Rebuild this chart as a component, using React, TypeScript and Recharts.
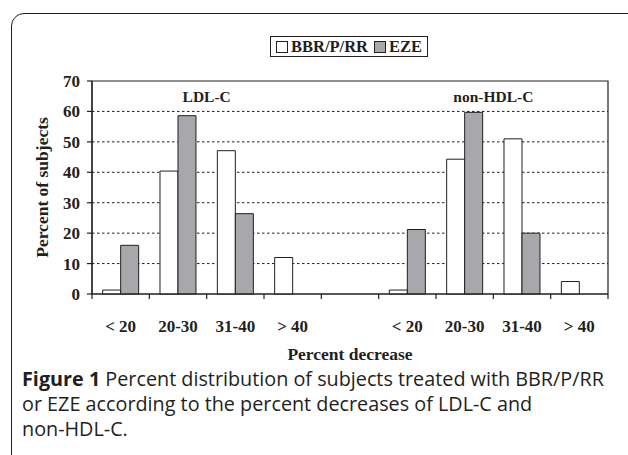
import React from "react";
import {
  BarChart,
  Bar,
  XAxis,
  YAxis,
  CartesianGrid,
  ReferenceArea,
  Legend,
} from "recharts";

// ---- data ----
const categoryIds = [
  "ldl-lt20",
  "ldl-2030",
  "ldl-3140",
  "ldl-gt40",
  "gap",
  "nonhdl-lt20",
  "nonhdl-2030",
  "nonhdl-3140",
  "nonhdl-gt40",
];
const tickLabels = ["< 20", "20-30", "31-40", "> 40", "", "< 20", "20-30", "31-40", "> 40"];
const bbrValues: (number | null)[] = [1.3, 40.4, 47.1, 12.0, null, 1.3, 44.3, 51.0, 4.1];
const ezeValues: (number | null)[] = [16.0, 58.6, 26.4, null, null, 21.2, 59.7, 20.0, null];
const yTicks = [0, 10, 20, 30, 40, 50, 60, 70];
const gridValues = [10, 20, 30, 40, 50, 60];
const seriesNames = ["BBR/P/RR", "EZE"];
const groupLabels = ["LDL-C", "non-HDL-C"];

const data = categoryIds.map((id, i) => ({
  id,
  label: tickLabels[i],
  bbr: bbrValues[i],
  eze: ezeValues[i],
}));

// ---- layout/style ----
const W = 628;
const H = 455;
const MARGIN = { top: 81, right: 20, left: 0, bottom: 95 };
const Y_AXIS_W = 92;
const X_AXIS_H = 66;
const INK = "#231f20";
const GRAY = "#a7a8ab";
const SERIF = "'Liberation Serif', 'Times New Roman', serif";
const BAND = (W - MARGIN.left - MARGIN.right - Y_AXIS_W) / categoryIds.length;

const CategoryTick = (props: any) => {
  const { x, y, index } = props;
  const half = BAND / 2;
  const label = tickLabels[index] ?? "";
  const isLast = index === categoryIds.length - 1;
  return (
    <g>
      <line x1={x - half} x2={x - half} y1={y} y2={y + 5} stroke={INK} strokeWidth={1.2} />
      {isLast && (
        <line x1={x + half} x2={x + half} y1={y} y2={y + 5} stroke={INK} strokeWidth={1.2} />
      )}
      {label !== "" && (
        <text
          x={x}
          y={y + 32}
          dy="0.35em"
          textAnchor="middle"
          fontFamily={SERIF}
          fontWeight="bold"
          fontSize={17}
          fill={INK}
        >
          {label}
        </text>
      )}
    </g>
  );
};

const LegendBox = () => (
  <div
    style={{
      display: "inline-flex",
      alignItems: "center",
      border: `1.2px solid ${INK}`,
      padding: "0px 5px 0px 5px",
      height: 19,
      fontFamily: SERIF,
      fontWeight: "bold",
      fontSize: 16.5,
      color: INK,
      background: "#fff",
      whiteSpace: "nowrap",
    }}
  >
    <span
      style={{
        display: "inline-block",
        width: 10,
        height: 10,
        border: `1px solid ${INK}`,
        background: "#fff",
        marginRight: 3,
      }}
    />
    <span style={{ marginRight: 6 }}>{seriesNames[0]}</span>
    <span
      style={{
        display: "inline-block",
        width: 10,
        height: 10,
        border: `1px solid ${INK}`,
        background: GRAY,
        marginRight: 3,
      }}
    />
    <span>{seriesNames[1]}</span>
  </div>
);

const GroupLabel = (props: any) => {
  const { viewBox, value } = props;
  const cx = viewBox.x + viewBox.width / 2;
  const cy = viewBox.y + viewBox.height / 2;
  return (
    <text
      x={cx}
      y={cy}
      dy="0.35em"
      textAnchor="middle"
      fontFamily={SERIF}
      fontWeight="bold"
      fontSize={15.5}
      fill={INK}
    >
      {value}
    </text>
  );
};

export default function App() {
  return (
    <div
      style={{
        position: "fixed",
        left: 0,
        top: 0,
        width: W,
        height: H,
        overflow: "hidden",
        background: "#fff",
      }}
    >
      <div
        style={{
          position: "absolute",
          left: 11,
          top: 13,
          width: 660,
          height: 500,
          border: `1.5px solid ${INK}`,
          borderRadius: 13,
          boxSizing: "border-box",
        }}
      />
      <div style={{ position: "absolute", left: 0, top: 0 }}>
        <BarChart
          width={W}
          height={H}
          data={data}
          margin={MARGIN}
          barCategoryGap="18.6%"
          barGap={0}
        >
          <CartesianGrid
            vertical={false}
            horizontalValues={gridValues}
            stroke={INK}
            strokeDasharray="2.5 2.5"
            strokeWidth={1}
          />
          <ReferenceArea
            x1={categoryIds[0]}
            x2={categoryIds[categoryIds.length - 1]}
            y1={0}
            y2={70}
            fill="none"
            fillOpacity={0}
            stroke={INK}
            strokeWidth={1.2}
            ifOverflow="visible"
          />
          <ReferenceArea
            x1={categoryIds[1]}
            x2={categoryIds[2]}
            y1={60}
            y2={70}
            fill="none"
            fillOpacity={0}
            stroke="none"
            label={<GroupLabel value={groupLabels[0]} />}
          />
          <ReferenceArea
            x1={categoryIds[6]}
            x2={categoryIds[7]}
            y1={60}
            y2={70}
            fill="none"
            fillOpacity={0}
            stroke="none"
            label={<GroupLabel value={groupLabels[1]} />}
          />
          <XAxis
            dataKey="id"
            type="category"
            height={X_AXIS_H}
            interval={0}
            tickLine={false}
            tickSize={0}
            tickMargin={0}
            axisLine={{ stroke: INK, strokeWidth: 1.2 }}
            tick={<CategoryTick />}
            label={{
              value: "Percent decrease",
              position: "insideBottom",
              offset: 0,
              fontFamily: SERIF,
              fontWeight: "bold",
              fontSize: 17.5,
              fill: INK,
            }}
          />
          <YAxis
            width={Y_AXIS_W}
            domain={[0, 70]}
            ticks={yTicks}
            interval={0}
            tickSize={5}
            tickMargin={7}
            axisLine={{ stroke: INK, strokeWidth: 1.2 }}
            tickLine={{ stroke: INK, strokeWidth: 1.2 }}
            tick={{ fontFamily: SERIF, fontWeight: "bold", fontSize: 17, fill: INK }}
            label={{
              value: "Percent of subjects",
              angle: -90,
              position: "center",
              dx: -4,
              fontFamily: SERIF,
              fontWeight: "bold",
              fontSize: 17.5,
              fill: INK,
            }}
          />
          <Legend
            layout="horizontal"
            verticalAlign="middle"
            align="center"
            content={<LegendBox />}
            wrapperStyle={{ top: 36, left: 270, width: "auto", height: "auto" }}
          />
          <Bar
            dataKey="bbr"
            name={seriesNames[0]}
            fill="#ffffff"
            stroke={INK}
            strokeWidth={1}
            isAnimationActive={false}
          />
          <Bar
            dataKey="eze"
            name={seriesNames[1]}
            fill={GRAY}
            stroke={INK}
            strokeWidth={1}
            isAnimationActive={false}
          />
        </BarChart>
      </div>
      <div
        style={{
          position: "absolute",
          left: 22,
          top: 366,
          width: 610,
          fontFamily: "'Open Sans', 'Noto Sans', sans-serif",
          fontSize: 19.8,
          lineHeight: "25px",
          color: INK,
          whiteSpace: "nowrap",
        }}
      >
        <span style={{ fontWeight: "bold" }}>Figure 1</span> Percent distribution of subjects treated
        with BBR/P/RR
        <br />
        or EZE according to the percent decreases of LDL-C and
        <br />
        non-HDL-C.
      </div>
    </div>
  );
}
